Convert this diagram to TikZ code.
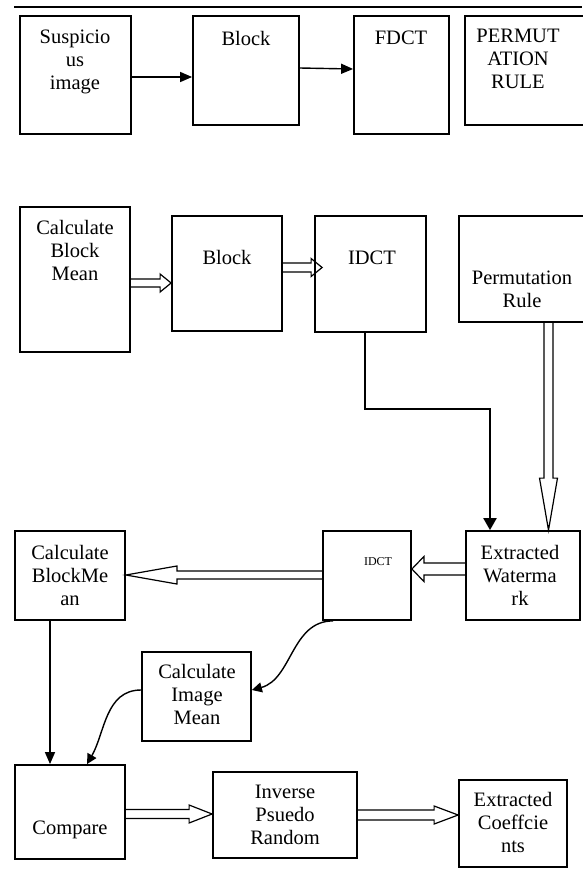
\documentclass[tikz,border=0pt]{standalone}
\usepackage{fontspec}
\setmainfont{Liberation Serif}
\usetikzlibrary{arrows.meta,calc}

\begin{document}
\begin{tikzpicture}[x=1pt, y=-1pt,
      box/.style={draw, line width=1.8pt, inner sep=0pt},
      txt/.style={align=center, inner sep=0pt, font=\fontsize{20.5}{23}\selectfont},
      arr/.style={-{Triangle[length=12pt,width=10pt]}, line width=1.4pt},
      thickarr/.style={-{Triangle[length=12pt,width=13pt]}, line width=2.2pt},
      curvearr/.style={-{Triangle[length=10pt,width=10pt]}, line width=1.4pt},
      hollowarr/.style n args={3}{line width=1.2pt,
        to path={let \p1=(\tikztostart), \p2=(\tikztotarget), \p3=($(\p2)!#3!(\p1)$) in
          ($(\p1)!#1!90:(\p2)$) -- ($(\p3)!#1!-90:(\p1)$) -- ($(\p3)!#2!-90:(\p1)$) -- (\p2)
          -- ($(\p3)!#2!90:(\p1)$) -- ($(\p3)!#1!90:(\p1)$) -- ($(\p1)!#1!-90:(\p2)$)}}
    ]
      \useasboundingbox (0,0) rectangle (582,871);
      \draw[line width=1.8pt] (14,7) -- (582,7);

      % first row
      \node[box, minimum width=111, minimum height=118] (sus) at (75.5,75) {};
      \node[box, minimum width=106, minimum height=109] (blk1) at (246,70.5) {};
      \node[box, minimum width=95, minimum height=118] (fdct) at (401.5,75) {};
      \node[box, minimum width=145, minimum height=109] (perm1) at (537.5,70.5) {};
      \node[txt] (sust) at (75,62) {Suspicio\\us\\image};
      \node[txt] (blk1t) at (246,38) {Block};
      \node[txt] (fdctt) at (401,38) {FDCT};
      \node[txt] (perm1t) at (518,59) {PERMUT\\ATION\\RULE};
      \draw[arr] (sus.east |- 0,77) -- (blk1.west |- 0,77);
      \draw[arr] (blk1.east |- 0,68) -- (fdct.west |- 0,69);

      % second row
      \node[box, minimum width=110, minimum height=145] (cbm) at (75,279.5) {};
      \node[box, minimum width=110, minimum height=115] (blk2) at (227,273.5) {};
      \node[box, minimum width=111, minimum height=116] (idct1) at (370.5,274) {};
      \node[box, minimum width=151, minimum height=106] (perm2) at (534.5,269) {};
      \node[txt] (cbmt) at (75,250) {Calculate\\Block\\Mean};
      \node[txt] (blk2t) at (227,257) {Block};
      \node[txt] (idct1t) at (372,258) {IDCT};
      \node[txt] (perm2t) at (522,289) {Permutation\\Rule};
      \draw[hollowarr={4pt}{9pt}{11pt}] (cbm.east |- 0,283) to (blk2.west |- 0,283);
      \draw[hollowarr={4.5pt}{9pt}{11pt}] (blk2.east |- 0,267.5) to ([xshift=8pt]idct1.west |- 0,267.5);

      % third row
      \node[box, minimum width=110, minimum height=89] (cbm2) at (70,575.5) {};
      \node[box, minimum width=88, minimum height=89] (idct2) at (367,575.5) {};
      \node[box, minimum width=114, minimum height=89] (ewm) at (523,575.5) {};
      \node[txt] (cbm2t) at (70,575) {Calculate\\BlockMe\\an};
      \node[txt, font=\fontsize{12}{14}\selectfont] (idct2t) at (378,562) {IDCT};
      \node[txt] (ewmt) at (520,575) {Extracted\\Waterma\\rk};
      \coordinate (bend) at (490,409);
      \draw[thickarr] (idct1.south -| 365,0) |- (bend) -- (ewm.north -| bend);
      \draw[hollowarr={4.5pt}{9pt}{52pt}] (perm2.south -| 548.5,0) to (ewm.north -| 548.5,0);
      \draw[hollowarr={6pt}{12.5pt}{12pt}] (ewm.west |- 0,569) to (idct2.east |- 0,569);
      \draw[hollowarr={4pt}{9pt}{51pt}] (idct2.west |- 0,575) to (cbm2.east |- 0,575);

      % fourth row
      \node[box, minimum width=109, minimum height=89] (cim) at (196.5,696.5) {};
      \node[box, minimum width=110, minimum height=94] (cmp) at (70,812) {};
      \node[box, minimum width=144, minimum height=86] (ipr) at (285,815) {};
      \node[box, minimum width=108, minimum height=87] (ecf) at (513,823.5) {};
      \node[txt] (cimt) at (197,694) {Calculate\\Image\\Mean};
      \node[txt] (cmpt) at (70,830) {Compare};
      \node[txt] (iprt) at (285,815) {Inverse\\Psuedo\\Random};
      \node[txt] (ecft) at (513,822) {Extracted\\Coeffcie\\nts};
      \draw[curvearr] (idct2.south -| 333,0) to[out=180,in=15] (cim.east |- 0,690);
      \draw[arr] (cbm2.south -| 50,0) -- (cmp.north -| 50,0);
      \draw[curvearr] (cim.west |- 0,690) to[out=180,in=60] (cmp.north -| 87,0);
      \draw[hollowarr={4.5pt}{9pt}{23pt}] (cmp.east |- 0,814) to (ipr.west |- 0,814);
      \draw[hollowarr={5pt}{9pt}{24pt}] (ipr.east |- 0,815) to (ecf.west |- 0,815);
    \end{tikzpicture}
\end{document}
